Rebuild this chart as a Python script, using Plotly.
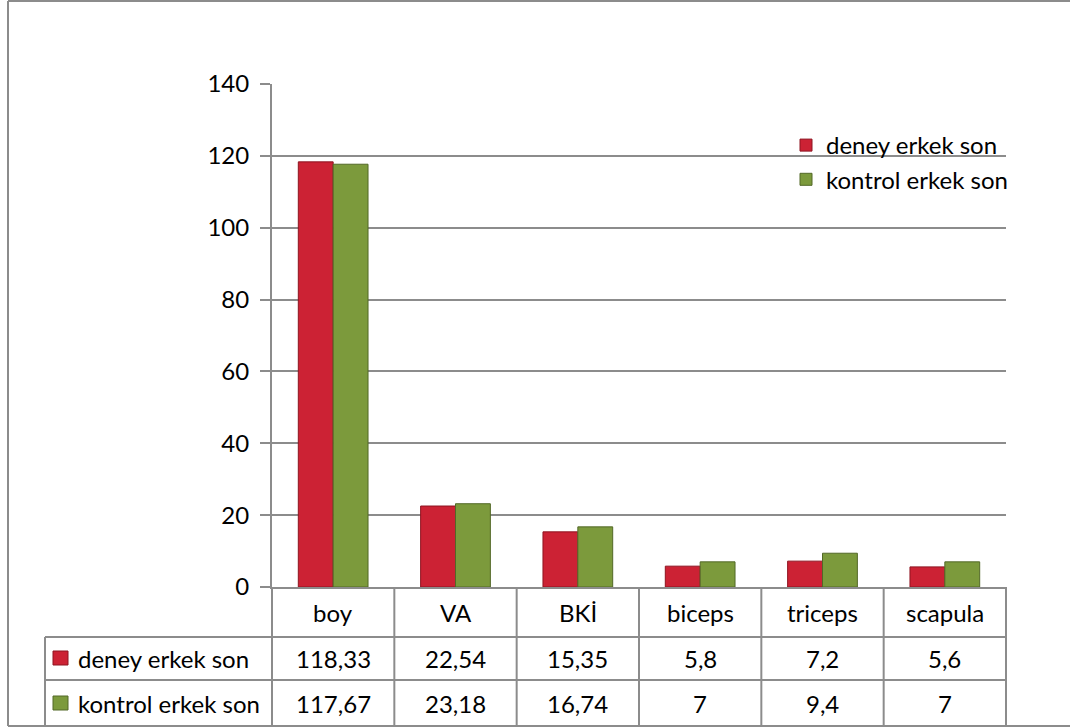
import plotly.graph_objects as go

# Body measurements: final values, experimental vs. control boys
categories = ["boy", "VA", "BKİ", "biceps", "triceps", "scapula"]
series_names = ["deney erkek son", "kontrol erkek son"]
deney = [118.33, 22.54, 15.35, 5.8, 7.2, 5.6]
kontrol = [117.67, 23.18, 16.74, 7, 9.4, 7]
y_ticks = [0, 20, 40, 60, 80, 100, 120, 140]

RED, RED_EDGE = "#CC2234", "#8E1420"
GREEN, GREEN_EDGE = "#7C9A3C", "#526827"
LINE = "#8C8C8C"
FONT = "Lato"
FS = 24

W, H = 1070, 728
L, R, T, B = 272, 1006, 84, 587   # plot area in pixels


def px(X):
    return (X - L) / (R - L)


def py(Y):
    return (B - Y) / (B - T)


def fmt(v):
    return f"{v:g}".replace(".", ",")


fig = go.Figure()
fig.add_trace(go.Bar(x=categories, y=deney, name=series_names[0], legendgroup="a",
                     marker=dict(color=RED, line=dict(color=RED_EDGE, width=1))))
fig.add_trace(go.Bar(x=categories, y=kontrol, name=series_names[1], legendgroup="b",
                     marker=dict(color=GREEN, line=dict(color=GREEN_EDGE, width=1))))

shapes = []


def hline(y, x0, x1):
    shapes.append(dict(type="line", xref="paper", yref="paper", x0=px(x0), x1=px(x1),
                       y0=py(y), y1=py(y), line=dict(color=LINE, width=2), layer="above"))


def vline(x, y0, y1, xr=None):
    xv = px(x) if xr is None else xr
    shapes.append(dict(type="line", xref="paper", yref="paper", x0=xv, x1=xv,
                       y0=py(y0), y1=py(y1), line=dict(color=LINE, width=2), layer="above"))


# outer chart frame
hline(1, 8, 1080)
hline(726, 8, 1080)
vline(8, 1, 726)

# data table grid
vline(L, B, 726)
n = len(categories)
for i in range(1, n + 1):
    vline(None, B, 726, xr=i / n)
hline(637, 45, R)
hline(680, 45, R)
vline(45, 637, 726)

annotations = []
row_y = [658, 703]
row_vals = [deney, kontrol]
row_colors = [(RED, RED_EDGE), (GREEN, GREEN_EDGE)]
txt = dict(family=FONT, size=FS, color="black")

for c in categories:
    annotations.append(dict(x=c, xref="x", y=py(612), yref="paper", text=c,
                            yanchor="middle", showarrow=False, font=txt))

for r in range(2):
    yc = row_y[r]
    annotations.append(dict(x=px(76), xref="paper", y=py(yc), yref="paper",
                            text=series_names[r], xanchor="left", yanchor="middle",
                            showarrow=False, font=txt))
    shapes.append(dict(type="rect", xref="paper", yref="paper",
                       x0=px(53), x1=px(68), y0=py(yc - 7), y1=py(yc + 7),
                       fillcolor=row_colors[r][0], line=dict(color=row_colors[r][1], width=1)))
    for c, v in zip(categories, row_vals[r]):
        annotations.append(dict(x=c, xref="x", y=py(yc), yref="paper", text=fmt(v),
                                yanchor="middle", showarrow=False, font=txt))

fig.update_layout(
    width=W, height=H,
    margin=dict(l=L, r=W - R, t=T, b=H - B, pad=0),
    paper_bgcolor="white", plot_bgcolor="white",
    barmode="group", bargap=0.43, bargroupgap=0,
    font=txt,
    showlegend=True,
    legend=dict(x=px(786), y=py(123), xanchor="left", yanchor="top",
                bgcolor="rgba(0,0,0,0)", traceorder="grouped", tracegroupgap=0,
                font=txt),
    xaxis=dict(showticklabels=False, showline=True, linecolor=LINE, linewidth=2,
               ticks="", showgrid=False, zeroline=False),
    yaxis=dict(range=[0, 140], tickvals=y_ticks, showline=True, linecolor=LINE, linewidth=2,
               ticks="outside", ticklen=10, tickwidth=2, tickcolor=LINE,
               showgrid=True, gridcolor=LINE, gridwidth=1.5, zeroline=False,
               ticklabelstandoff=6, tickfont=txt),
    shapes=shapes,
    annotations=annotations,
)

fig.write_html("out.html")
